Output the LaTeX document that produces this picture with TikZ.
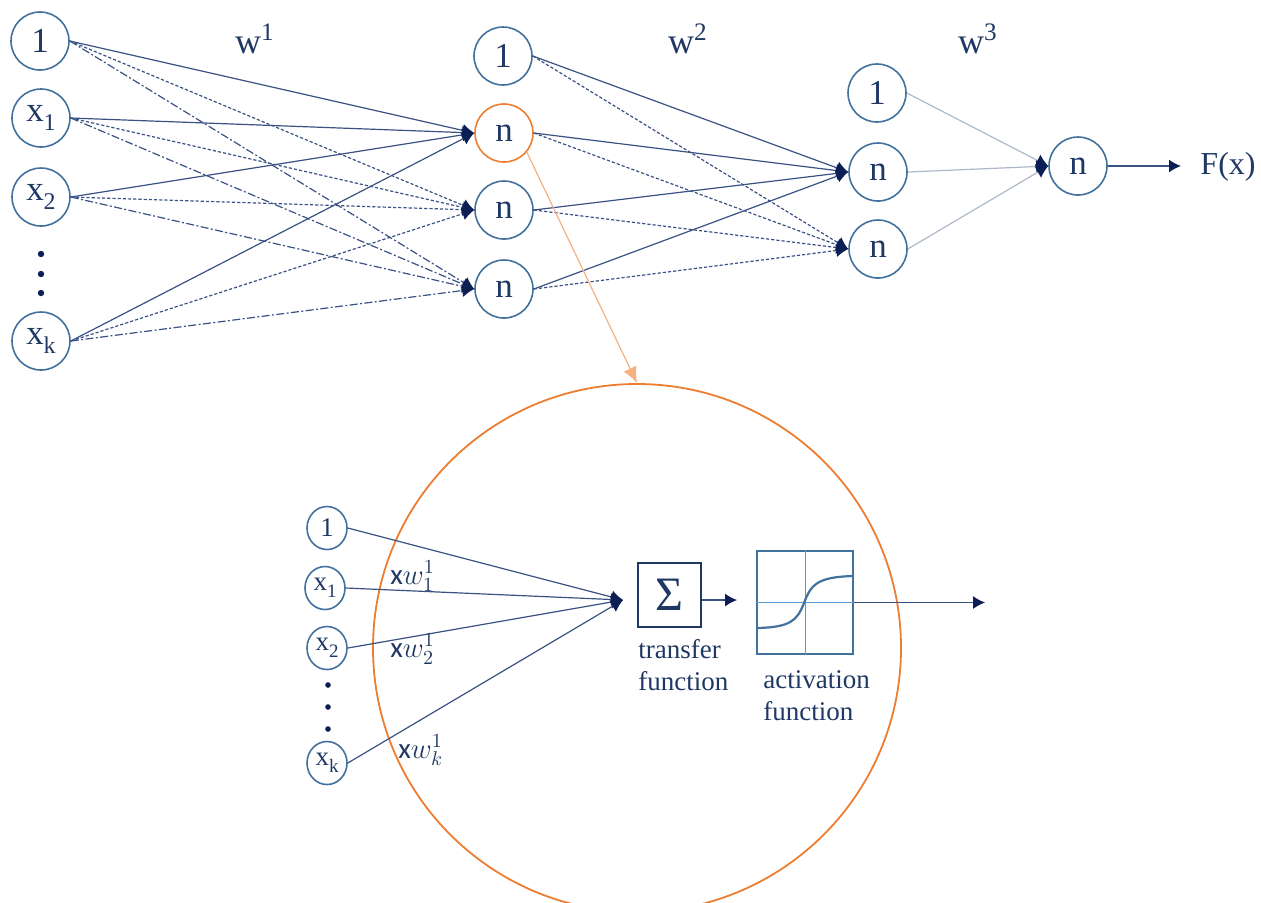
\documentclass[tikz,border=0pt]{standalone}
\usepackage{fontspec}
\setmainfont{Liberation Serif}
\newfontfamily\carlitofont{Carlito}
\usetikzlibrary{arrows.meta,shapes.geometric}
\definecolor{nodeblue}{HTML}{41719C}
\definecolor{navytext}{HTML}{1F3864}
\definecolor{edgeblue}{HTML}{3A5183}
\definecolor{tipnavy}{HTML}{0B1F55}
\definecolor{orng}{HTML}{ED7D31}
\definecolor{lorng}{HTML}{F4B183}
\definecolor{lightedge}{HTML}{ADB9CA}
\definecolor{axisblue}{HTML}{5B9BD5}
\newcommand\lsub[1]{\raisebox{-4.5pt}{\fontsize{12}{12}\selectfont #1}}
\newcommand\ssub[1]{\raisebox{-3.5pt}{\fontsize{9.5}{9.5}\selectfont #1}}
\begin{document}
\begin{tikzpicture}[x=0.5pt,y=-0.5pt,
  neuron/.style={circle,draw=nodeblue,line width=0.8pt,minimum size=29pt,inner sep=0pt,text=navytext,font=\fontsize{17.5}{17.5}\selectfont},
  hot/.style={neuron,draw=orng},
  sneuron/.style={ellipse,draw=nodeblue,line width=0.8pt,minimum width=20pt,minimum height=21.5pt,inner sep=0pt,text=navytext,font=\fontsize{13.5}{13.5}\selectfont},
  wlabel/.style={anchor=base,inner sep=0pt,text=navytext,font=\fontsize{18}{18}\selectfont},
  xwlabel/.style={anchor=base west,inner sep=0pt,text=navytext,font=\fontsize{14.5}{14.5}\selectfont},
  caption/.style={anchor=base west,inner sep=0pt,text=navytext,font=\fontsize{13.5}{13.5}\selectfont},
  conn/.style={draw=edgeblue,line width=0.6pt,-{Latex[length=6pt,width=6.5pt,color=tipnavy]}},
  lconn/.style={draw=lightedge,line width=0.6pt,-{Latex[length=6pt,width=6.5pt,color=tipnavy]}},
  dotl/.style={dash pattern=on 1.6pt off 1pt},
  dashdotl/.style={dash pattern=on 4pt off 1.2pt on 1pt off 1.2pt},
  bigdot/.style={circle,fill=tipnavy,inner sep=0pt,minimum size=3.2pt},
  smalldot/.style={circle,fill=tipnavy,inner sep=0pt,minimum size=2.8pt}]
\useasboundingbox (0,0) rectangle (1261,902);

% ---------- layer 1 ----------
\node[neuron] (i0) at (40,41) {1};
\node[neuron] (i1) at (41,118) {x\lsub{1}};
\node[neuron] (i2) at (41,197) {x\lsub{2}};
\node[neuron] (ik) at (41,341) {x\lsub{k}};
\node[bigdot] (d1) at (41,254) {};
\node[bigdot] (d2) at (41,274) {};
\node[bigdot] (d3) at (41,293) {};

% ---------- layer 2 ----------
\node[neuron] (h0) at (503,56) {1};
\node[hot] (h1) at (504,133) {n};
\node[neuron] (h2) at (504,210) {n};
\node[neuron] (h3) at (504,289) {n};

% ---------- layer 3 ----------
\node[neuron] (m0) at (877,93) {1};
\node[neuron] (m1) at (878,172) {n};
\node[neuron] (m2) at (878,249) {n};

% ---------- output ----------
\node[neuron] (out) at (1078,166) {n};
\node[inner sep=0pt,text=navytext,font=\fontsize{16}{16}\selectfont] (fx) at (1228,167) {F(x)};
\coordinate (fxin) at (1181,166);

% weight labels
\node[wlabel] (w1) at (255,53) {w\textsuperscript{1}};
\node[wlabel] (w2) at (688,53) {w\textsuperscript{2}};
\node[wlabel] (w3) at (978,53) {w\textsuperscript{3}};

% ---------- edges layer 1 -> 2 ----------
\draw[conn] (i0.east) -- (h1.west);
\draw[conn,dotl] (i0.east) -- (h2.west);
\draw[conn,dashdotl] (i0.east) -- (h3.west);
\draw[conn] (i1.east) -- (h1.west);
\draw[conn,dotl] (i1.east) -- (h2.west);
\draw[conn,dashdotl] (i1.east) -- (h3.west);
\draw[conn] (i2.east) -- (h1.west);
\draw[conn,dotl] (i2.east) -- (h2.west);
\draw[conn,dashdotl] (i2.east) -- (h3.west);
\draw[conn] (ik.east) -- (h1.west);
\draw[conn,dotl] (ik.east) -- (h2.west);
\draw[conn,dashdotl] (ik.east) -- (h3.west);

% ---------- edges layer 2 -> 3 ----------
\draw[conn] (h0.east) -- (m1.west);
\draw[conn,dotl] (h0.east) -- (m2.west);
\draw[conn] (h1.east) -- (m1.west);
\draw[conn,dotl] (h1.east) -- (m2.west);
\draw[conn] (h2.east) -- (m1.west);
\draw[conn,dotl] (h2.east) -- (m2.west);
\draw[conn] (h3.east) -- (m1.west);
\draw[conn,dotl] (h3.east) -- (m2.west);

% ---------- edges layer 3 -> output ----------
\draw[lconn] (m0.east) -- (out.west);
\draw[lconn] (m1.east) -- (out.west);
\draw[lconn] (m2.east) -- (out.west);
\draw[conn,line width=0.75pt] (out.east) -- (fxin);

% ---------- zoom circle ----------
\node[circle,draw=orng,line width=0.9pt,minimum size=264pt,inner sep=0pt] (zoomc) at (637,648) {};
\draw[draw=lorng,line width=0.6pt,-{Latex[length=8pt,width=7pt,color=lorng]}] (h1.-40) -- (zoomc.north);

% ---------- single neuron detail ----------
\node[sneuron] (s0) at (327,528) {1};
\node[sneuron] (s1) at (325,588) {x\ssub{1}};
\node[sneuron] (s2) at (327,648) {x\ssub{2}};
\node[sneuron] (sk) at (327,763) {x\ssub{k}};
\node[smalldot] (e1) at (328,685) {};
\node[smalldot] (e2) at (328,707) {};
\node[smalldot] (e3) at (328,729) {};
\coordinate (conv) at (623,600);

\draw[conn] (s0.east) -- (conv);
\draw[conn] (s1.east) -- (conv);
\draw[conn] (s2.east) -- (conv);
\draw[conn] (sk.east) -- (conv);

\node[xwlabel] (xw1) at (390,584) {{\carlitofont x}$w^{1}_{1}$};
\node[xwlabel] (xw2) at (390,657) {{\carlitofont x}$w^{1}_{2}$};
\node[xwlabel] (xwk) at (398,758) {{\carlitofont x}$w^{1}_{k}$};

\node[draw=navytext,line width=0.85pt,minimum width=31.5pt,minimum height=32pt,inner sep=0pt,text=navytext,font=\fontsize{24}{24}\selectfont] (sig) at (669.5,595) {Σ};
\coordinate (sigend) at (737,600);
\draw[conn,line width=0.65pt] (sig.east |- sigend) -- (sigend);

\node[draw=nodeblue,line width=0.9pt,minimum width=48pt,minimum height=51.5pt,inner sep=0pt] (act) at (805,602.5) {};
\draw[axisblue,line width=0.5pt] (act.west) -- (act.east);
\draw[axisblue,line width=0.5pt] (act.north) -- (act.south);
\draw[nodeblue,line width=1.1pt] (758,628) .. controls (790,627) and (797,621) .. (804,603) .. controls (811,584) and (818,577) .. (853,576);
\coordinate (outend) at (985,602.5);
\draw[conn,line width=0.65pt] (act.east) -- (outend);

\node[caption] (tf1) at (638,658) {transfer};
\node[caption] (tf2) at (638,690) {function};
\node[caption] (af1) at (763,688) {activation};
\node[caption] (af2) at (763,720) {function};
\end{tikzpicture}
\end{document}
